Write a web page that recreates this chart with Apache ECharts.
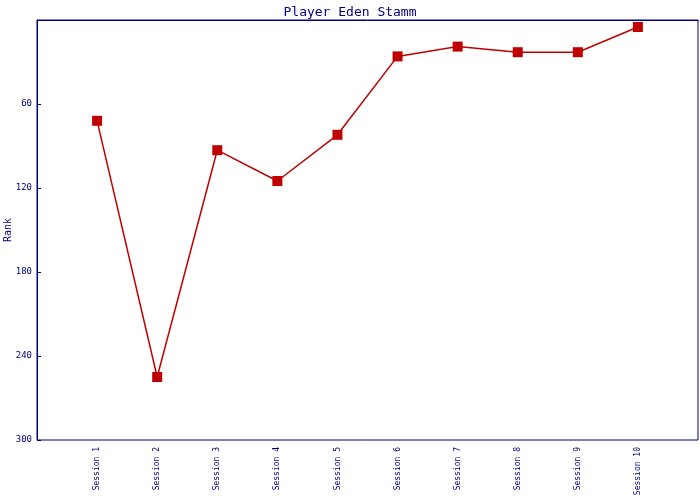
<!DOCTYPE html>
<html><head><meta charset="utf-8">
<script src="https://cdn.jsdelivr.net/npm/echarts@6/dist/echarts.min.js"></script>
<style>html,body{margin:0;padding:0;background:#fff}#c{width:700px;height:500px}</style>
</head><body><div id="c"></div>
<script>
var categories = ['', 'Session 1', 'Session 2', 'Session 3', 'Session 4', 'Session 5', 'Session 6', 'Session 7', 'Session 8', 'Session 9', 'Session 10', ''];
var ranks = [null, 72, 255, 93, 115, 82, 26, 19, 23, 23, 5, null];
var yTicks = [60, 120, 180, 240, 300];
var navy = '#000080';
var font = '"DejaVu Sans Mono", monospace';
var chart = echarts.init(document.getElementById('c'));
chart.setOption({
  animation: false,
  backgroundColor: '#fff',
  title: { text: 'Player Eden Stamm', left: 'center', top: 1,
    textStyle: { color: navy, fontFamily: font, fontWeight: 'normal', fontSize: 13 } },
  grid: { left: 37, right: 2, top: 20, bottom: 60, show: true, borderColor: navy, borderWidth: 1,
    containLabel: false, outerBoundsMode: 'none' },
  xAxis: { type: 'category', data: categories, boundaryGap: false,
    axisLine: { lineStyle: { color: navy, width: 1 } }, axisTick: { show: false },
    axisLabel: { rotate: 90, interval: 0, color: navy, fontFamily: font, fontSize: 8, margin: 7, align: 'right', verticalAlign: 'middle' },
    splitLine: { show: false } },
  yAxis: { type: 'value', inverse: true, min: 0, max: 300, interval: 60,
    name: 'Rank', nameLocation: 'middle', nameGap: 24, nameRotate: 90, nameMoveOverlap: false,
    nameTextStyle: { color: navy, fontFamily: font, fontSize: 10 },
    axisLine: { show: true, lineStyle: { color: navy, width: 1 } },
    axisTick: { show: true, inside: true, length: 4, lineStyle: { color: navy } },
    axisLabel: { color: navy, fontFamily: font, fontSize: 9, margin: 5,
      formatter: function (v) { return yTicks.indexOf(v) >= 0 ? String(v) : ''; } },
    splitLine: { show: false } },
  series: [{ type: 'line', data: ranks, connectNulls: false,
    symbol: 'rect', symbolSize: 10,
    lineStyle: { color: '#c00000', width: 1.5 },
    itemStyle: { color: '#c00000' } }]
});
</script></body></html>
